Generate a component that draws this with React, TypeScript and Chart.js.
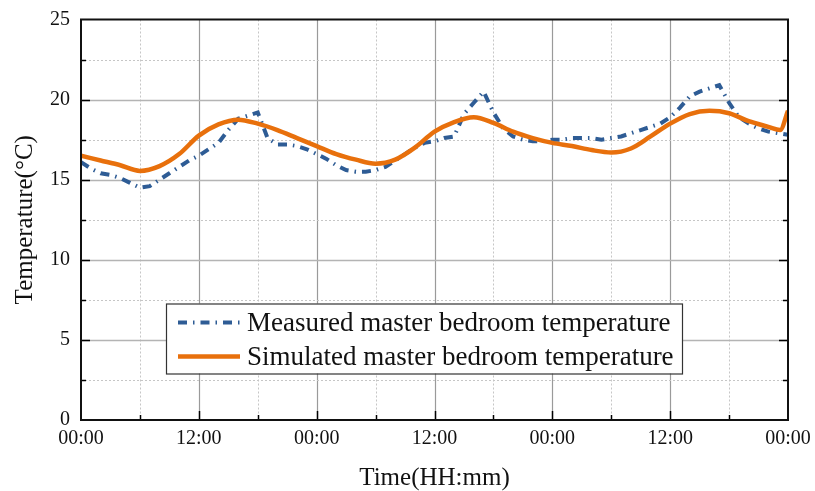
import React, { useEffect, useRef } from "react";
import { Chart, registerables } from "chart.js";

Chart.register(...registerables);

// ---- data ----
const measuredHours = [
  0, 1, 2, 3, 4, 5, 6, 7, 8, 9, 10, 11, 12, 13, 14, 15, 16, 17, 18, 19, 20, 21, 22, 23,
  24, 25, 26, 27, 28, 29, 30, 31, 32, 33, 34, 35, 36, 37, 38, 39, 40, 41, 42, 43, 44, 45, 46, 47,
  48, 49, 50, 51, 52, 53, 54, 55, 56, 57, 58, 59, 60, 61, 62, 63, 64, 65, 66, 67, 68, 69, 70, 71, 72,
];
const measuredTemp = [
  16.1, 15.7, 15.4, 15.3, 15.1, 14.8, 14.5, 14.6, 15.0, 15.4, 15.8, 16.2, 16.5, 16.9, 17.3, 18.1, 18.8, 19.0, 19.2, 17.6, 17.2, 17.2, 17.1, 16.9,
  16.6, 16.3, 15.9, 15.6, 15.5, 15.5, 15.6, 15.8, 16.2, 16.6, 17.0, 17.3, 17.4, 17.6, 17.7, 19.1, 19.8, 20.5, 19.2, 18.2, 17.7, 17.5, 17.4, 17.4,
  17.5, 17.5, 17.6, 17.6, 17.6, 17.5, 17.6, 17.7, 17.9, 18.1, 18.3, 18.5, 18.9, 19.5, 20.2, 20.5, 20.7, 20.9, 19.8, 18.9, 18.5, 18.2, 18.0, 17.9, 17.8,
];

const simulatedHours = [
  0, 2, 4, 6, 8, 10, 12, 14, 16, 18, 20, 22, 24, 26, 28, 30, 32, 34, 36, 38, 40, 42, 44, 46,
  48, 50, 52, 54, 56, 58, 60, 62, 64, 66, 68, 70, 71.2, 72,
];
const simulatedTemp = [
  16.5, 16.2, 15.9, 15.55, 15.85, 16.6, 17.75, 18.45, 18.75, 18.5, 18.1, 17.6, 17.1, 16.6, 16.25, 16.0, 16.25, 17.0, 18.0, 18.6, 18.9, 18.55, 18.0, 17.6,
  17.3, 17.1, 16.85, 16.7, 16.95, 17.7, 18.5, 19.1, 19.3, 19.15, 18.65, 18.3, 18.1, 19.3,
];

const xTickValues = [0, 12, 24, 36, 48, 60, 72];
const xTickLabels = ["00:00", "12:00", "00:00", "12:00", "00:00", "12:00", "00:00"];

const seriesNames = ["Measured master bedroom temperature", "Simulated master bedroom temperature"];
const xTitle = "Time(HH:mm)";
const yTitle = "Temperature(°C)";

const BLUE = "#2E5C95";
const ORANGE = "#E8700C";
const FONT = "'Liberation Serif', 'Times New Roman', serif";

const gridPlugin = {
  id: "customGrid",
  beforeDatasetsDraw(chart: any) {
    const { ctx, chartArea: a } = chart;
    const xs = chart.scales.x;
    const ys = chart.scales.y;
    ctx.save();
    for (let v = xs.min + 6; v < xs.max; v += 6) {
      const px = Math.round(xs.getPixelForValue(v)) + 0.5;
      ctx.beginPath();
      if (v % 12 === 0) {
        ctx.setLineDash([]);
        ctx.strokeStyle = "#9a9a9a";
        ctx.lineWidth = 1.2;
      } else {
        ctx.setLineDash([2, 2]);
        ctx.strokeStyle = "#c6c6c6";
        ctx.lineWidth = 1;
      }
      ctx.moveTo(px, a.top);
      ctx.lineTo(px, a.bottom);
      ctx.stroke();
    }
    for (let v = ys.min + 2.5; v < ys.max; v += 2.5) {
      const py = Math.round(ys.getPixelForValue(v)) + 0.5;
      ctx.beginPath();
      if (v % 5 === 0) {
        ctx.setLineDash([]);
        ctx.strokeStyle = "#b4b4b4";
        ctx.lineWidth = 1.5;
      } else {
        ctx.setLineDash([2, 2]);
        ctx.strokeStyle = "#c6c6c6";
        ctx.lineWidth = 1;
      }
      ctx.moveTo(a.left, py);
      ctx.lineTo(a.right, py);
      ctx.stroke();
    }
    ctx.restore();
  },
  afterDatasetsDraw(chart: any) {
    const { ctx, chartArea: a } = chart;
    const xs = chart.scales.x;
    const ys = chart.scales.y;
    ctx.save();
    ctx.setLineDash([]);
    ctx.strokeStyle = "#000";
    ctx.lineWidth = 1.5;
    for (let v = xs.min + 6; v < xs.max; v += 6) {
      const px = Math.round(xs.getPixelForValue(v)) + 0.5;
      const len = v % 12 === 0 ? 9 : 5;
      ctx.beginPath();
      ctx.moveTo(px, a.bottom);
      ctx.lineTo(px, a.bottom - len);
      ctx.stroke();
    }
    for (let v = ys.min + 2.5; v < ys.max; v += 2.5) {
      const py = Math.round(ys.getPixelForValue(v)) + 0.5;
      const len = v % 5 === 0 ? 9 : 5;
      ctx.beginPath();
      ctx.moveTo(a.left, py);
      ctx.lineTo(a.left + len, py);
      ctx.moveTo(a.right, py);
      ctx.lineTo(a.right - len, py);
      ctx.stroke();
    }
    ctx.lineWidth = 2;
    ctx.strokeStyle = "#111";
    ctx.strokeRect(a.left, a.top, a.right - a.left, a.bottom - a.top);
    ctx.restore();
  },
  afterDraw(chart: any) {
    const { ctx, chartArea: a } = chart;
    const boxL = a.left + 85;
    const boxT = a.top + 284;
    const boxW = 516;
    const boxH = 70;
    ctx.save();
    ctx.fillStyle = "#fff";
    ctx.fillRect(boxL, boxT, boxW, boxH);
    ctx.strokeStyle = "#333";
    ctx.lineWidth = 1.2;
    ctx.setLineDash([]);
    ctx.strokeRect(boxL + 0.5, boxT + 0.5, boxW, boxH);
    ctx.font = `27px ${FONT}`;
    ctx.textBaseline = "middle";
    ctx.fillStyle = "#111";
    const rows = [boxT + 19, boxT + 53];
    chart.data.datasets.forEach((ds: any) => {
      const y = rows[ds.legendRow];
      ctx.beginPath();
      ctx.strokeStyle = ds.borderColor;
      ctx.lineWidth = ds.borderWidth;
      ctx.setLineDash(ds.borderDash || []);
      ctx.moveTo(boxL + 12, y);
      ctx.lineTo(boxL + 74, y);
      ctx.stroke();
      ctx.setLineDash([]);
      ctx.fillText(ds.label, boxL + 81, y + 1);
    });
    ctx.restore();
  },
};

export default function App() {
  const ref = useRef<HTMLCanvasElement>(null);
  useEffect(() => {
    if (!ref.current) return;
    const chart = new Chart(ref.current, {
      type: "line",
      data: {
        datasets: [
          {
            label: seriesNames[0],
            legendRow: 0,
            data: measuredHours.map((h, i) => ({ x: h, y: measuredTemp[i] })),
            borderColor: BLUE,
            borderWidth: 4,
            borderDash: [9, 6, 1.5, 6],
            pointRadius: 0,
            tension: 0,
            fill: false,
            order: 2,
          } as any,
          {
            label: seriesNames[1],
            legendRow: 1,
            data: simulatedHours.map((h, i) => ({ x: h, y: simulatedTemp[i] })),
            borderColor: ORANGE,
            borderWidth: 4.5,
            pointRadius: 0,
            cubicInterpolationMode: "monotone",
            fill: false,
            order: 1,
          } as any,
        ],
      },
      options: {
        animation: false,
        responsive: true,
        maintainAspectRatio: false,
        layout: { padding: { left: 0, top: 19.5, right: 27, bottom: 0 } },
        plugins: { legend: { display: false }, tooltip: { enabled: false } },
        scales: {
          x: {
            type: "linear",
            min: 0,
            max: 72,
            grid: { display: false, drawTicks: false },
            border: { display: false },
            ticks: {
              stepSize: 6,
              autoSkip: false,
              maxRotation: 0,
              padding: 7,
              color: "#111",
              font: { family: FONT, size: 20 },
              callback: (v: any) => {
                const idx = xTickValues.indexOf(Number(v));
                return idx >= 0 ? xTickLabels[idx] : "";
              },
            },
            title: {
              display: true,
              text: xTitle,
              color: "#111",
              font: { family: FONT, size: 25, lineHeight: 1.2 },
              padding: { top: 0, bottom: -2 },
            },
            afterFit: (s: any) => {
              s.height = 71;
              s.paddingLeft = 0;
              s.paddingRight = 0;
            },
          },
          y: {
            min: 0,
            max: 25,
            grid: { display: false, drawTicks: false },
            border: { display: false },
            ticks: {
              stepSize: 5,
              padding: 11,
              color: "#111",
              font: { family: FONT, size: 20 },
            },
            title: {
              display: true,
              text: yTitle,
              color: "#111",
              font: { family: FONT, size: 25, lineHeight: 1.2 },
              padding: { top: 10, bottom: 0 },
            },
            afterFit: (s: any) => {
              s.width = 81;
              s.paddingTop = 0;
              s.paddingBottom = 0;
            },
          },
        },
      },
      plugins: [gridPlugin],
    });
    return () => chart.destroy();
  }, []);
  return (
    <div style={{ position: "fixed", left: 0, top: 0, width: 815, height: 491, background: "#fff" }}>
      <canvas ref={ref} />
    </div>
  );
}
